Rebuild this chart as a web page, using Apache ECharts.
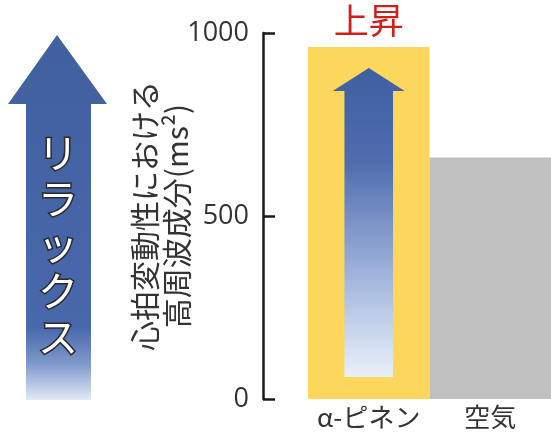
<!DOCTYPE html>
<html>
<head>
<meta charset="utf-8">
<script src="https://cdn.jsdelivr.net/npm/echarts@6/dist/echarts.min.js"></script>
<style>
  html, body { margin: 0; padding: 0; background: #ffffff; }
  #chart { width: 551px; height: 434px; }
</style>
</head>
<body>
<div id="chart"></div>
<script>
// Conditions and their high-frequency HRV power (ms²)
const categories = ['α-ピネン', '空気'];
const hfValues = [962, 660];
const barColors = ['#fdd65c', '#c0c0c0'];
const yTicks = [0, 500, 1000];
const barNote = ['上昇', ''];
const yTitle = '心拍変動性における\n高周波成分(ms²)';
const sideLabel = 'リラックス';

const FONT = '"Noto Sans CJK JP", "Noto Sans", sans-serif';

const chart = echarts.init(document.getElementById('chart'), null, { renderer: 'canvas' });

// Upward arrow inside a bar, sized from the bar's band and value
function renderInnerArrow(params, api) {
  const idx = api.value(0);
  const top = api.coord([idx, api.value(1)]);
  const base = api.coord([idx, 0]);
  const bw = api.size([1, 0])[0];
  const cx = top[0];
  const tipY = top[1] + 21;
  const headY = tipY + 23;
  const bottomY = base[1] - 22;
  const headHalf = bw * 0.296;
  const shaftHalf = bw * 0.2;
  return {
    type: 'polygon',
    shape: {
      points: [
        [cx, tipY], [cx + headHalf, headY], [cx + shaftHalf, headY],
        [cx + shaftHalf, bottomY], [cx - shaftHalf, bottomY],
        [cx - shaftHalf, headY], [cx - headHalf, headY]
      ]
    },
    style: {
      fill: new echarts.graphic.LinearGradient(0, 0, 0, 1, [
        { offset: 0, color: '#3f5fa4' },
        { offset: 0.3, color: '#4e6cae' },
        { offset: 0.7, color: '#a6badf' },
        { offset: 1, color: '#eaf0fa' }
      ])
    }
  };
}

const option = {
  animation: false,
  backgroundColor: '#ffffff',
  grid: { left: 308, right: -7, top: 33, bottom: 35 },
  xAxis: {
    type: 'category',
    data: categories,
    axisLine: { show: false },
    axisTick: { show: false },
    axisLabel: {
      interval: 0, hideOverlap: false,
      fontSize: 26, color: '#333', fontFamily: FONT, margin: 5
    }
  },
  yAxis: {
    type: 'value',
    min: yTicks[0],
    max: yTicks[yTicks.length - 1],
    interval: yTicks[1] - yTicks[0],
    offset: 45,
    splitLine: { show: false },
    axisLine: { show: true, lineStyle: { color: '#1a1a1a', width: 2.5 } },
    axisTick: { show: true, inside: true, length: 12, lineStyle: { color: '#1a1a1a', width: 2.5 } },
    axisLabel: {
      fontSize: 27, color: '#333', fontFamily: '"Open Sans", sans-serif', margin: 14,
      formatter: v => String(v)
    },
    name: yTitle,
    nameLocation: 'middle',
    nameRotate: 90,
    nameGap: 70,
    nameMoveOverlap: false,
    nameTextStyle: { fontSize: 30, color: '#333', fontFamily: FONT, lineHeight: 32 }
  },
  series: [
    {
      type: 'bar',
      data: hfValues.map((v, i) => ({ value: v, itemStyle: { color: barColors[i] } })),
      barWidth: '100%',
      barCategoryGap: 0,
      label: {
        show: true,
        position: 'top',
        distance: 3,
        offset: [0, -6],
        formatter: p => barNote[p.dataIndex],
        color: '#d0201c',
        fontSize: 35,
        fontFamily: FONT
      },
      z: 1
    },
    {
      type: 'custom',
      renderItem: renderInnerArrow,
      data: [[0, hfValues[0]]],
      encode: { x: 0, y: 1 },
      z: 5
    }
  ],
  graphic: [
    {
      type: 'polygon',
      shape: {
        points: [[57, 35], [107, 104], [91, 104], [91, 400], [26, 400], [26, 104], [8, 104]]
      },
      style: {
        fill: new echarts.graphic.LinearGradient(0, 0, 0, 1, [
          { offset: 0, color: '#41609f' },
          { offset: 0.8, color: '#4868ac' },
          { offset: 0.9, color: '#7f98cb' },
          { offset: 1, color: '#e3eaf6' }
        ])
      }
    },
    {
      type: 'text',
      x: 58,
      y: 245,
      style: {
        text: sideLabel.split('').join('\n'),
        fill: '#ffffff',
        stroke: '#2a2a2a',
        lineWidth: 3,
        fontSize: 40,
        lineHeight: 46,
        fontFamily: FONT,
        align: 'center',
        verticalAlign: 'middle'
      },
      z: 10
    }
  ]
};

chart.setOption(option);
</script>
</body>
</html>
